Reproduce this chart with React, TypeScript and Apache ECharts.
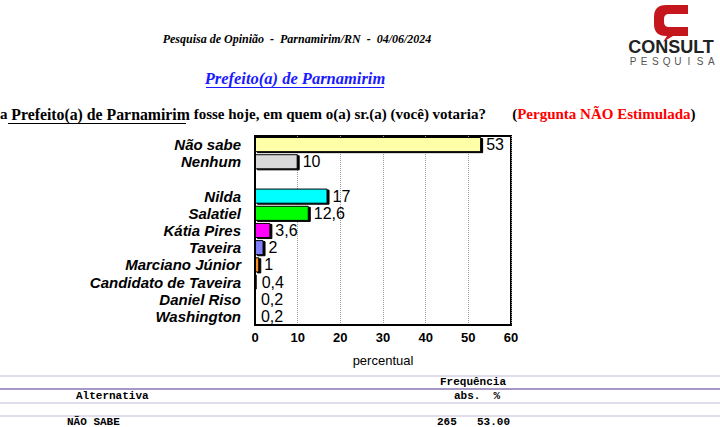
import React, { useEffect, useRef } from "react";
import * as echarts from "echarts";

const categories = [
  "Não sabe",
  "Nenhum",
  "",
  "Nilda",
  "Salatiel",
  "Kátia Pires",
  "Taveira",
  "Marciano Júnior",
  "Candidato de Taveira",
  "Daniel Riso",
  "Washington",
];
const values: (number | null)[] = [53, 10, null, 17, 12.6, 3.6, 2, 1, 0.4, 0.2, 0.2];
const barColors = [
  "#FFFFA8",
  "#D9D9D9",
  "#FFFFFF",
  "#00FFFF",
  "#00FF00",
  "#FF00FF",
  "#8080FF",
  "#FF9020",
  "#000000",
  "#FFFF60",
  "#FF4040",
];
const xTicks = [0, 10, 20, 30, 40, 50, 60];

const headerText = "Pesquisa de Opinião  -  Parnamirim/RN  -  04/06/2024";
const titleText = "Prefeito(a) de Parnamirim";
const logoWord = "CONSULT";
const logoSub = "PESQUISA";
const tableHeader = ["Frequência", "Alternativa", "abs.  %"];
const tableRow = ["NÃO SABE", "265", "53.00"];

const logoPath =
  "M34,0 L12,0 Q0,0 0,12 L0,19 Q0,31 12,31 L13,31 L9,37 L19,31 L34,31 L34,22 L15,22 Q10,22 10,17 L10,14 Q10,9 15,9 L34,9 Z";
echarts.graphic.registerShape("logo", (echarts.graphic as any).extendPath(logoPath, {}));

export default function App() {
  const ref = useRef<HTMLDivElement>(null);
  useEffect(() => {
    if (!ref.current) return;
    const chart = echarts.init(ref.current, undefined, { renderer: "svg" });
    const serif = "'Liberation Serif', 'DejaVu Serif', serif";
    const sans = "'Liberation Sans', Arial, sans-serif";
    const mono = "'Liberation Mono', 'DejaVu Sans Mono', monospace";
    const subLetters = logoSub.split("").map((ch, i) => ({
      type: "text",
      x: 633 + i * 11.2,
      y: 61,
      style: {
        text: ch,
        font: `10px ${sans}`,
        fill: "#555",
        align: "center",
        verticalAlign: "middle",
      },
    }));
    chart.setOption({
      animation: false,
      backgroundColor: "#ffffff",
      grid: {
        left: 255,
        right: 209,
        top: 136,
        height: 189,
        show: true,
        borderColor: "#000",
        borderWidth: 2,
        containLabel: false,
      },
      xAxis: {
        type: "value",
        min: 0,
        max: 60,
        interval: 10,
        name: "percentual",
        nameLocation: "middle",
        nameGap: 29,
        nameTextStyle: { fontFamily: sans, fontSize: 13, color: "#000" },
        axisLine: { show: true, lineStyle: { color: "#000", width: 2 } },
        axisTick: { show: false },
        axisLabel: {
          fontFamily: sans,
          fontSize: 13,
          fontWeight: "bold",
          color: "#000",
          margin: 6,
          formatter: (v: number) => (xTicks.includes(v) ? String(v) : ""),
        },
        splitLine: { show: true, lineStyle: { color: "#9a9a9a", type: "dotted", width: 1 } },
      },
      yAxis: {
        type: "category",
        data: categories,
        inverse: true,
        axisLine: { show: true, lineStyle: { color: "#000", width: 2 } },
        axisTick: { show: false },
        axisLabel: {
          interval: 0,
          fontFamily: sans,
          fontSize: 15,
          fontStyle: "italic",
          fontWeight: "bold",
          color: "#000",
          margin: 14,
        },
      },
      series: [
        {
          type: "bar",
          data: values.map((v, i) => ({
            value: v,
            itemStyle: { color: barColors[i] },
          })),
          barCategoryGap: "12%",
          itemStyle: {
            borderColor: "#000",
            borderWidth: 1,
            shadowColor: "#000",
            shadowOffsetX: 2,
            shadowOffsetY: 1,
            shadowBlur: 0,
          },
          label: {
            show: true,
            position: "right",
            distance: 5,
            fontFamily: sans,
            fontSize: 16,
            color: "#000",
            formatter: (p: any) => (p.value == null ? "" : String(p.value).replace(".", ",")),
          },
        },
      ],
      graphic: [
        {
          type: "text",
          x: 297,
          y: 39,
          style: {
            text: headerText,
            font: `italic bold 12px ${serif}`,
            fill: "#000",
            align: "center",
            verticalAlign: "middle",
          },
        },
        {
          type: "text",
          x: 295,
          y: 78,
          style: {
            text: titleText,
            font: `italic bold 16.5px ${serif}`,
            fill: "#1a1aff",
            align: "center",
            verticalAlign: "middle",
          },
        },
        { type: "line", shape: { x1: 206, y1: 87.5, x2: 384, y2: 87.5 }, style: { stroke: "#1a1aff", lineWidth: 1 } },
        {
          type: "text",
          x: 0,
          y: 114,
          style: {
            text: "{b|a }{u|Prefeito(a) de Parnamirim}{b| fosse hoje, em quem o(a) sr.(a) (você) votaria?       (}{r|Pergunta NÃO Estimulada}{b|)}",
            verticalAlign: "middle",
            rich: {
              b: { font: `bold 15px ${serif}`, fill: "#000" },
              u: { font: `bold 15.8px ${serif}`, fill: "#000" },
              r: { font: `bold 15px ${serif}`, fill: "#ff0000" },
            },
          },
        },
        { type: "line", shape: { x1: 8, y1: 123.5, x2: 186, y2: 123.5 }, style: { stroke: "#000", lineWidth: 1.2 } },
        {
          type: "logo",
          x: 654,
          y: 5,
          scaleX: 1,
          scaleY: 1,
          style: { fill: "#c4161c" },
        },
        {
          type: "text",
          x: 671,
          y: 47,
          style: {
            text: logoWord,
            font: `900 18px ${sans}`,
            fill: "#222",
            align: "center",
            verticalAlign: "middle",
          },
        },
        ...subLetters,
        { type: "line", shape: { x1: 0, y1: 376, x2: 720, y2: 376 }, style: { stroke: "#d8d2e6", lineWidth: 1.5 } },
        { type: "line", shape: { x1: 0, y1: 389, x2: 720, y2: 389 }, style: { stroke: "#a898c6", lineWidth: 2 } },
        { type: "line", shape: { x1: 0, y1: 403, x2: 720, y2: 403 }, style: { stroke: "#d8d2e6", lineWidth: 1.5 } },
        { type: "line", shape: { x1: 0, y1: 416, x2: 720, y2: 416 }, style: { stroke: "#d8d2e6", lineWidth: 1.5 } },
        {
          type: "text",
          x: 440,
          y: 382,
          style: { text: tableHeader[0], font: `bold 11px ${mono}`, fill: "#000", verticalAlign: "middle" },
        },
        {
          type: "text",
          x: 76,
          y: 396,
          style: { text: tableHeader[1], font: `bold 11px ${mono}`, fill: "#000", verticalAlign: "middle" },
        },
        {
          type: "text",
          x: 454,
          y: 396,
          style: { text: tableHeader[2], font: `bold 11px ${mono}`, fill: "#000", verticalAlign: "middle" },
        },
        {
          type: "text",
          x: 67,
          y: 422,
          style: { text: tableRow[0], font: `bold 11px ${mono}`, fill: "#000", verticalAlign: "middle" },
        },
        {
          type: "text",
          x: 437,
          y: 422,
          style: { text: tableRow[1], font: `bold 11px ${mono}`, fill: "#000", verticalAlign: "middle" },
        },
        {
          type: "text",
          x: 477,
          y: 422,
          style: { text: tableRow[2], font: `bold 11px ${mono}`, fill: "#000", verticalAlign: "middle" },
        },
      ],
    });
    return () => chart.dispose();
  }, []);
  return (
    <div
      ref={ref}
      style={{ position: "fixed", left: 0, top: 0, width: 720, height: 427, background: "#fff" }}
    />
  );
}
